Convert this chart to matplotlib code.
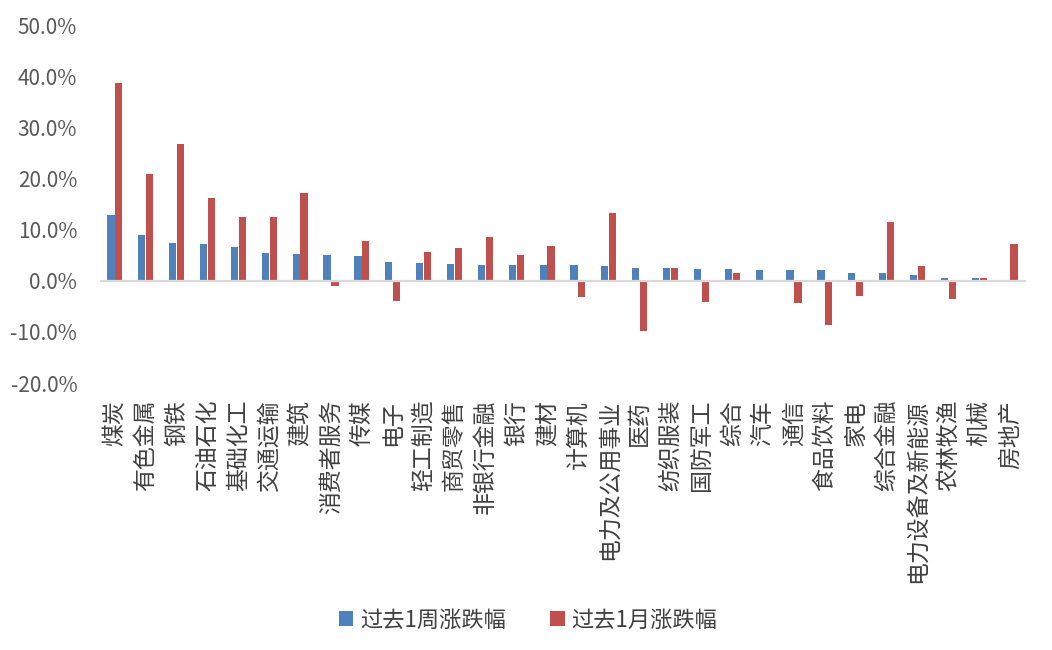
import matplotlib
matplotlib.use("Agg")
import matplotlib.pyplot as plt
import numpy as np
from matplotlib.ticker import FuncFormatter

plt.rcParams['font.family'] = ['Noto Sans CJK SC', 'DejaVu Sans']

categories = ["煤炭", "有色金属", "钢铁", "石油石化", "基础化工", "交通运输", "建筑", "消费者服务",
              "传媒", "电子", "轻工制造", "商贸零售", "非银行金融", "银行", "建材", "计算机",
              "电力及公用事业", "医药", "纺织服装", "国防军工", "综合", "汽车", "通信", "食品饮料",
              "家电", "综合金融", "电力设备及新能源", "农林牧渔", "机械", "房地产"]
week = [12.8, 9.0, 7.3, 7.2, 6.6, 5.5, 5.2, 5.1,
        4.8, 3.7, 3.5, 3.2, 3.1, 3.0, 3.0, 3.0,
        2.9, 2.5, 2.4, 2.3, 2.3, 2.1, 2.0, 2.0,
        1.6, 1.5, 1.1, 0.6, 0.5, 0.2]
month = [38.7, 20.8, 26.8, 16.1, 12.5, 12.4, 17.1, -1.1,
         7.7, -3.9, 5.7, 6.3, 8.5, 5.0, 6.7, -3.1,
         13.3, -9.8, 2.5, -4.2, 1.6, 0.0, -4.4, -8.6,
         -2.9, 11.5, 2.9, -3.6, 0.5, 7.2]
series_names = ["过去1周涨跌幅", "过去1月涨跌幅"]
yticks = [-20, -10, 0, 10, 20, 30, 40, 50]

W, H = 1052, 650
fig = plt.figure(figsize=(W / 100, H / 100), dpi=100)
ax = fig.add_axes([99.5 / W, 1 - 383 / H, (1025.5 - 99.5) / W, (383 - 25) / H])

x = np.arange(len(categories))
bw = 0.235
ax.bar(x - bw / 2 - 0.01, week, bw, color="#4f81bd", label=series_names[0], zorder=2)
ax.bar(x + bw / 2 + 0.01, month, bw, color="#c0504d", label=series_names[1], zorder=2)
ax.axhline(0, color="#d9d9d9", lw=1.6, zorder=3)

ax.set_xlim(-0.5, len(categories) - 0.5)
ax.set_ylim(-20, 50)
ax.set_yticks(yticks)
ax.yaxis.set_major_formatter(FuncFormatter(lambda v, p: f"{v:.1f}%"))
ax.tick_params(axis='y', length=0, labelsize=15, labelcolor="#595959", pad=16)
ax.tick_params(axis='x', length=0)
ax.set_xticks([])
for s in ax.spines.values():
    s.set_visible(False)

for i, c in enumerate(categories):
    ax.text(i, -23.3, c, rotation=90, ha='center', va='top', fontsize=16.5,
            color="#404040", rotation_mode='default')

fig.legend(loc='center', bbox_to_anchor=(528 / W, 1 - 620 / H), ncol=2, frameon=False,
           fontsize=16, handlelength=0.65, handleheight=0.65, handletextpad=0.3,
           columnspacing=2.0, labelcolor="#404040")

fig.savefig("out.png", dpi=100)
